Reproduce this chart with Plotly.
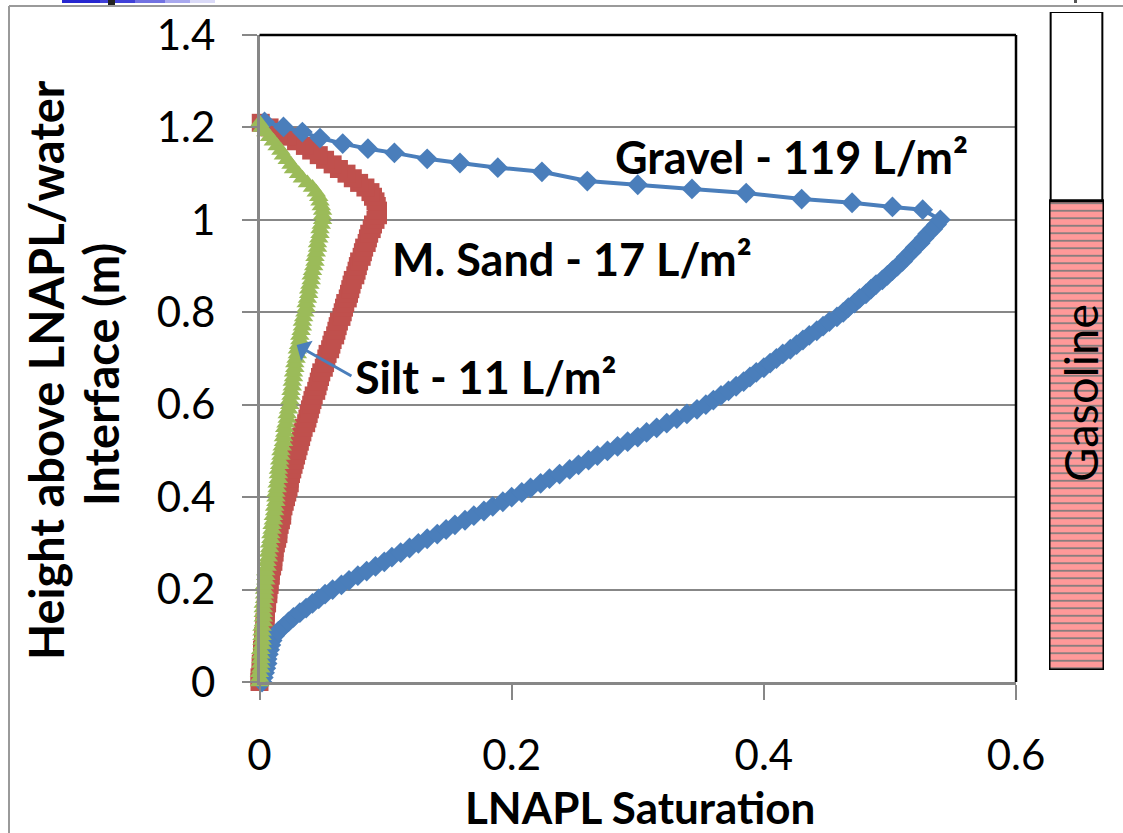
import plotly.graph_objects as go

W, H = 1123, 833

# ---------------- data ----------------
heights = [
    0.00, 0.01, 0.02, 0.03, 0.04, 0.05, 0.06, 0.07, 0.08, 0.09,
    0.10, 0.11, 0.12, 0.13, 0.14, 0.15, 0.16, 0.17, 0.18, 0.19,
    0.20, 0.21, 0.22, 0.23, 0.24, 0.25, 0.26, 0.27, 0.28, 0.29,
    0.30, 0.31, 0.32, 0.33, 0.34, 0.35, 0.36, 0.37, 0.38, 0.39,
    0.40, 0.41, 0.42, 0.43, 0.44, 0.45, 0.46, 0.47, 0.48, 0.49,
    0.50, 0.51, 0.52, 0.53, 0.54, 0.55, 0.56, 0.57, 0.58, 0.59,
    0.60, 0.61, 0.62, 0.63, 0.64, 0.65, 0.66, 0.67, 0.68, 0.69,
    0.70, 0.71, 0.72, 0.73, 0.74, 0.75, 0.76, 0.77, 0.78, 0.79,
    0.80, 0.81, 0.82, 0.83, 0.84, 0.85, 0.86, 0.87, 0.88, 0.89,
    0.90, 0.91, 0.92, 0.93, 0.94, 0.95, 0.96, 0.97, 0.98, 0.99,
    1.00, 1.01, 1.02, 1.03, 1.04, 1.05, 1.06, 1.07, 1.08, 1.09,
    1.10, 1.11, 1.12, 1.13, 1.14, 1.15, 1.16, 1.17, 1.18, 1.19,
    1.20, 1.21,
]

sand_sat = [
    0.000, 0.000, 0.001, 0.001, 0.001, 0.002, 0.002, 0.002, 0.003, 0.003,
    0.003, 0.004, 0.004, 0.004, 0.005, 0.005, 0.005, 0.006, 0.006, 0.007,
    0.007, 0.008, 0.008, 0.009, 0.009, 0.010, 0.011, 0.011, 0.012, 0.012,
    0.013, 0.014, 0.015, 0.015, 0.016, 0.017, 0.018, 0.018, 0.019, 0.020,
    0.021, 0.022, 0.023, 0.024, 0.024, 0.025, 0.026, 0.027, 0.028, 0.029,
    0.030, 0.031, 0.032, 0.033, 0.034, 0.035, 0.037, 0.038, 0.039, 0.040,
    0.041, 0.042, 0.043, 0.045, 0.046, 0.047, 0.048, 0.049, 0.051, 0.052,
    0.053, 0.054, 0.056, 0.057, 0.058, 0.060, 0.061, 0.062, 0.063, 0.065,
    0.066, 0.067, 0.068, 0.070, 0.071, 0.072, 0.073, 0.074, 0.076, 0.077,
    0.078, 0.079, 0.081, 0.082, 0.083, 0.085, 0.086, 0.087, 0.089, 0.090,
    0.092, 0.094, 0.094, 0.093, 0.092, 0.090, 0.088, 0.084, 0.079, 0.074,
    0.069, 0.063, 0.058, 0.052, 0.047, 0.041, 0.036, 0.029, 0.022, 0.015,
    0.008, 0.001,
]

silt_sat = [
    0.000, 0.000, 0.000, 0.001, 0.001, 0.001, 0.001, 0.001, 0.002, 0.002,
    0.002, 0.002, 0.002, 0.003, 0.003, 0.003, 0.003, 0.003, 0.004, 0.004,
    0.004, 0.004, 0.005, 0.005, 0.005, 0.006, 0.006, 0.007, 0.007, 0.008,
    0.008, 0.009, 0.009, 0.010, 0.010, 0.011, 0.011, 0.012, 0.012, 0.013,
    0.013, 0.013, 0.014, 0.014, 0.015, 0.015, 0.015, 0.016, 0.016, 0.017,
    0.017, 0.018, 0.019, 0.019, 0.020, 0.020, 0.021, 0.022, 0.022, 0.023,
    0.024, 0.024, 0.025, 0.025, 0.026, 0.026, 0.027, 0.027, 0.028, 0.028,
    0.029, 0.030, 0.030, 0.031, 0.032, 0.032, 0.033, 0.034, 0.034, 0.035,
    0.036, 0.037, 0.037, 0.038, 0.039, 0.039, 0.040, 0.041, 0.041, 0.042,
    0.043, 0.044, 0.044, 0.045, 0.046, 0.046, 0.047, 0.048, 0.048, 0.049,
    0.050, 0.050, 0.050, 0.049, 0.048, 0.047, 0.045, 0.042, 0.038, 0.034,
    0.031, 0.027, 0.025, 0.022, 0.019, 0.017, 0.014, 0.011, 0.008, 0.005,
    0.002, 0.000,
]

gravel_sat_lower = [
    0.002, 0.003, 0.004, 0.005, 0.006, 0.006, 0.007, 0.008, 0.009, 0.010,
    0.012, 0.015, 0.019, 0.023, 0.027, 0.032, 0.037, 0.042, 0.047, 0.052,
    0.058, 0.065, 0.071, 0.078, 0.085, 0.092, 0.099, 0.105, 0.112, 0.119,
    0.126, 0.133, 0.141, 0.148, 0.155, 0.163, 0.170, 0.178, 0.185, 0.193,
    0.200, 0.208, 0.215, 0.223, 0.230, 0.238, 0.246, 0.253, 0.261, 0.268,
    0.276, 0.284, 0.292, 0.300, 0.307, 0.315, 0.323, 0.331, 0.339, 0.347,
    0.354, 0.360, 0.366, 0.372, 0.378, 0.384, 0.389, 0.394, 0.400, 0.405,
    0.410, 0.415, 0.421, 0.426, 0.431, 0.436, 0.442, 0.447, 0.452, 0.458,
    0.463, 0.467, 0.472, 0.476, 0.481, 0.485, 0.489, 0.494, 0.498, 0.502,
    0.506, 0.510, 0.513, 0.517, 0.520, 0.524, 0.527, 0.530, 0.534, 0.537,
    0.540,
]
gravel_heights_upper = [1.022, 1.028, 1.037, 1.045, 1.058, 1.067, 1.076, 1.084, 1.104, 1.113,
                        1.123, 1.132, 1.145, 1.154, 1.165, 1.177, 1.190, 1.201, 1.212]
gravel_sat_upper = [0.526, 0.502, 0.470, 0.430, 0.386, 0.343, 0.300, 0.260, 0.224, 0.189,
                    0.159, 0.133, 0.107, 0.086, 0.066, 0.048, 0.034, 0.019, 0.004]

gravel_heights = heights[:len(gravel_sat_lower)] + gravel_heights_upper
gravel_sat = gravel_sat_lower + gravel_sat_upper

x_ticks = [0, 0.2, 0.4, 0.6]
x_tick_text = ["0", "0.2", "0.4", "0.6"]
y_ticks = [0, 0.2, 0.4, 0.6, 0.8, 1.0, 1.2, 1.4]
y_tick_text = ["0", "0.2", "0.4", "0.6", "0.8", "1", "1.2", "1.4"]

tank_fluid = ["Gasoline"]
gasoline_fraction = [0.713]   # share of the column filled with gasoline
column_total = [1.0]

# ---------------- styling ----------------
FONT = "Lato"
BLUE = "#4A7EBB"
RED = "#C0504D"
GREEN = "#9BBB59"
GRID = "#878787"


def P(x, y):
    return x / W, 1 - y / H


x0p, y0p = P(259.5, 682)
x1p, y1p = P(1016, 35)

fig = go.Figure()

fig.add_trace(go.Scatter(
    x=sand_sat, y=heights, mode="lines+markers", name="M. Sand",
    line=dict(color=RED, width=4),
    marker=dict(symbol="square", size=18, color=RED),
    cliponaxis=False, showlegend=False))
fig.add_trace(go.Scatter(
    x=gravel_sat, y=gravel_heights, mode="lines+markers", name="Gravel",
    line=dict(color=BLUE, width=4),
    marker=dict(symbol="diamond", size=16, color=BLUE),
    cliponaxis=False, showlegend=False))
fig.add_trace(go.Scatter(
    x=silt_sat, y=heights, mode="lines+markers", name="Silt",
    line=dict(color=GREEN, width=4),
    marker=dict(symbol="triangle-up", size=17, color=GREEN),
    cliponaxis=False, showlegend=False))

# gasoline column (separate small axes)
fig.add_trace(go.Bar(
    x=[0], y=column_total, base=[0], width=[0.94], xaxis="x3", yaxis="y3",
    marker=dict(color="white", line=dict(color="black", width=2)),
    cliponaxis=False, showlegend=False, hoverinfo="skip"))
fig.add_trace(go.Bar(
    x=[0], y=gasoline_fraction, base=[0], width=[1.0], xaxis="x3", yaxis="y3",
    name=tank_fluid[0],
    marker=dict(color="#FF9999", line=dict(color="black", width=3),
                pattern=dict(shape="-", fgcolor="#7a7a7a", bgcolor="#FF9999",
                             size=7.5, solidity=0.22)),
    cliponaxis=False, showlegend=False, hoverinfo="skip"))

tickfont = dict(family=FONT, size=42, color="black")

fig.update_layout(
    template="none",
    width=W, height=H, autosize=False,
    margin=dict(l=0, r=0, t=0, b=0, pad=0, autoexpand=False),
    paper_bgcolor="white", plot_bgcolor="white",
    barmode="overlay",
    xaxis=dict(domain=[x0p, x1p], range=[0, 0.6], tickvals=x_ticks, ticktext=x_tick_text,
               showgrid=False, zeroline=False, showline=True, linecolor=GRID, linewidth=2.5,
               ticks="outside", ticklen=15, tickwidth=2, tickcolor=GRID,
               tickfont=tickfont, ticklabelstandoff=20, anchor="y", automargin=False),
    xaxis2=dict(overlaying="x", anchor="y", range=[0, 0.6], tickvals=x_ticks,
                showticklabels=False, showgrid=False, zeroline=False, showline=False,
                ticks="inside", ticklen=15, tickwidth=2, tickcolor=GRID, side="bottom",
                automargin=False),
    yaxis=dict(domain=[y0p, y1p], range=[0, 1.4], tickvals=y_ticks, ticktext=y_tick_text,
               showgrid=True, gridcolor=GRID, gridwidth=2, zeroline=False,
               showline=True, linecolor=GRID, linewidth=2.5,
               ticks="outside", ticklen=15, tickwidth=2, tickcolor=GRID,
               tickfont=tickfont, ticklabelstandoff=18, anchor="x", automargin=False),
    xaxis3=dict(domain=[1049 / W, 1104 / W], range=[-0.5, 0.5], anchor="y3", visible=False,
                automargin=False),
    yaxis3=dict(domain=[1 - 670 / H, 1 - 12 / H], range=[0, 1], anchor="x3", visible=False,
                automargin=False),
)

# plot frame: black top and right edges
fig.add_shape(type="line", xref="x domain", yref="y domain", x0=0, x1=1, y0=1, y1=1,
              line=dict(color="black", width=2.5))
fig.add_shape(type="line", xref="x domain", yref="y domain", x0=1, x1=1, y0=0, y1=1,
              line=dict(color="black", width=2.5))

# outer slide frame
fig.add_shape(type="line", xref="paper", yref="paper", x0=9 / W, x1=9 / W, y0=0, y1=1 - 6 / H,
              line=dict(color="#9a9a9a", width=2))
fig.add_shape(type="line", xref="paper", yref="paper", x0=9 / W, x1=1, y0=1 - 6 / H, y1=1 - 6 / H,
              line=dict(color="#9a9a9a", width=2))
# cut-off title remnants at the very top
for xa, xb, col in [(62, 100, "#2626d0"), (100, 135, "#4040d8"), (135, 165, "#7272e2"),
                    (165, 190, "#a8a8ee"), (190, 215, "#dadaf8")]:
    fig.add_shape(type="line", xref="paper", yref="paper", x0=xa / W, x1=xb / W,
                  y0=1 - 1.5 / H, y1=1 - 1.5 / H, line=dict(color=col, width=3))
fig.add_shape(type="rect", xref="paper", yref="paper", x0=108 / W, x1=115 / W,
              y0=1 - 5 / H, y1=1, line=dict(width=0), fillcolor="#222")
fig.add_shape(type="rect", xref="paper", yref="paper", x0=1074 / W, x1=1077 / W,
              y0=1 - 3 / H, y1=1, line=dict(width=0), fillcolor="#555")


def ann(text, x, y, size=45, bold=True, angle=0, color="black"):
    px, py = P(x, y)
    fig.add_annotation(text=f"<b>{text}</b>" if bold else text, x=px, y=py,
                       xref="paper", yref="paper", showarrow=False, textangle=angle,
                       font=dict(family=FONT, size=size, color=color),
                       xanchor="center", yanchor="middle")


ann("Gravel - 119 L/m²", 791, 157)
ann("M. Sand - 17 L/m²", 572, 259)
ann("Silt - 11 L/m²", 485, 377)
ann("LNAPL Saturation", 640, 807, size=44)
ann("Height above LNAPL/water", 46, 370, size=47, angle=-90)
ann("Interface (m)", 101, 375, size=47, angle=-90)
ann("Gasoline", 1080, 393, size=47, bold=False, angle=-90)

# arrow pointing to the silt curve
fig.add_annotation(x=0.0295, y=0.729, xref="x", yref="y",
                   ax=(353 - 259.5) / 1261.7, ay=(682 - 377) / 462, axref="x", ayref="y",
                   text="", showarrow=True, arrowhead=1, arrowsize=1.3, arrowwidth=3,
                   arrowcolor=BLUE)

fig.write_html("out.html")
